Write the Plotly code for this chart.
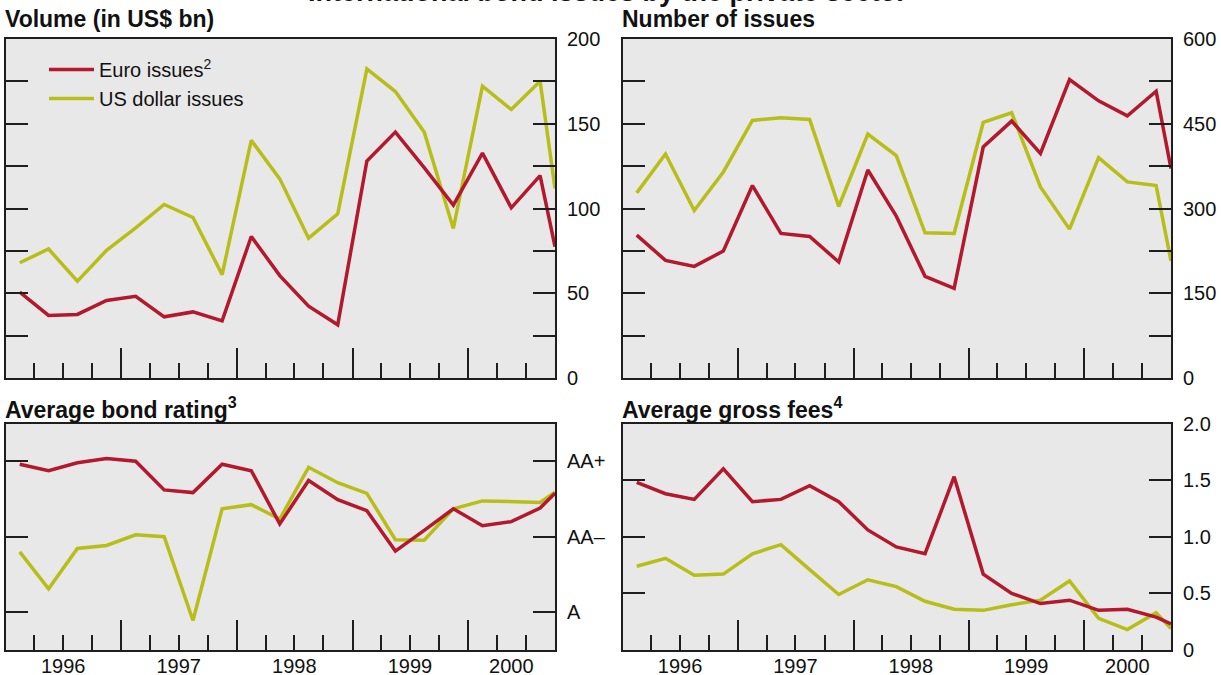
import plotly.graph_objects as go

# ---------------- data (quarterly, last point = latest partial reading) ----------------
periods = [
    "1996-02-15", "1996-05-16", "1996-08-15", "1996-11-15",
    "1997-02-15", "1997-05-16", "1997-08-15", "1997-11-15",
    "1998-02-15", "1998-05-16", "1998-08-15", "1998-11-15",
    "1999-02-15", "1999-05-16", "1999-08-15", "1999-11-15",
    "2000-02-15", "2000-05-16", "2000-08-15", "2000-10-01",
]

volume_euro = [50.6, 36.9, 37.5, 45.7, 48.2, 36.1, 39.0, 33.7, 83.5, 60.4,
               42.4, 31.4, 128.0, 145.1, 124.1, 102.0, 132.7, 100.4, 119.4, 77.5]
volume_usd = [68.0, 76.1, 57.1, 75.3, 88.6, 102.4, 94.7, 61.0, 140.2, 117.5,
              82.5, 96.9, 182.4, 169.0, 145.1, 88.2, 172.2, 158.4, 175.1, 111.8]

number_euro = [252.9, 208.2, 197.6, 224.7, 340.6, 255.9, 250.6, 205.3, 368.2, 286.5,
               180.0, 158.8, 408.8, 454.7, 397.6, 528.2, 490.6, 464.1, 507.6, 370.6]
number_usd = [327.6, 396.5, 296.5, 364.7, 455.9, 460.6, 457.6, 303.5, 431.8, 393.5,
              257.1, 255.9, 452.3, 469.4, 338.2, 263.5, 390.0, 347.1, 340.6, 207.1]

# rating in notches above A (A = 0, A+ = 1, AA- = 2, AA = 3, AA+ = 4, AAA = 5)
rating_euro = [3.92, 3.75, 3.96, 4.07, 4.00, 3.24, 3.17, 3.92, 3.75, 2.34,
               3.49, 2.98, 2.69, 1.62, 2.17, 2.74, 2.29, 2.40, 2.76, 3.15]
rating_usd = [1.60, 0.62, 1.69, 1.77, 2.05, 2.00, -0.22, 2.74, 2.85, 2.47,
              3.84, 3.43, 3.15, 1.92, 1.91, 2.74, 2.95, 2.94, 2.91, 3.18]

fees_euro = [1.48, 1.38, 1.33, 1.60, 1.31, 1.33, 1.45, 1.31, 1.06, 0.91,
             0.85, 1.53, 0.67, 0.50, 0.41, 0.44, 0.35, 0.36, 0.29, 0.23]
fees_usd = [0.74, 0.81, 0.66, 0.67, 0.85, 0.93, 0.71, 0.49, 0.62, 0.56,
            0.43, 0.36, 0.35, 0.40, 0.44, 0.61, 0.28, 0.18, 0.33, 0.19]

series_names = ["Euro issues<sup>2</sup>", "US dollar issues"]

x_range = ["1996-01-01", "2000-10-01"]
year_starts = ["1997-01-01", "1998-01-01", "1999-01-01", "2000-01-01"]
quarter_starts = [f"{y}-{m}-01" for y in range(1996, 2001) for m in ("01", "04", "07", "10")]
year_label_pos = ["1996-07-01", "1997-07-01", "1998-07-01", "1999-07-01", "2000-05-16"]
year_labels = ["1996", "1997", "1998", "1999", "2000"]

vol_ticks = [0, 25, 50, 75, 100, 125, 150, 175, 200]
vol_text = ["0", "", "50", "", "100", "", "150", "", "200"]
num_ticks = [0, 75, 150, 225, 300, 375, 450, 525, 600]
num_text = ["0", "", "150", "", "300", "", "450", "", "600"]
rating_ticks = [0, 2, 4]
rating_text = ["A", "AA\u2013", "AA+"]
fees_ticks = [0, 0.5, 1.0, 1.5, 2.0]
fees_text = ["0", "0.5", "1.0", "1.5", "2.0"]

panel_titles = ["Volume (in US$ bn)", "Number of issues",
                "Average bond rating<sup>3</sup>", "Average gross fees<sup>4</sup>"]
main_title = "International bond issues by the private sector"

# ---------------- style ----------------
RED = "#b3182c"
OLIVE = "#b7be17"
BG = "#e8e8e8"
LINE = "#1e1e1e"
FONT = "Liberation Sans, Arial, Helvetica, sans-serif"
W, H = 1221, 675

dom_xl = [5.5 / W, 555 / W]
dom_xr = [622.5 / W, 1171 / W]
dom_yt = [1 - 378 / H, 1 - 39 / H]
dom_yb = [1 - 650 / H, 1 - 423.5 / H]

fig = go.Figure()

panels = [
    ("x", "y", volume_euro, volume_usd),
    ("x2", "y2", number_euro, number_usd),
    ("x3", "y3", rating_euro, rating_usd),
    ("x4", "y4", fees_euro, fees_usd),
]
for i, (xa, ya, euro, usd) in enumerate(panels):
    fig.add_trace(go.Scatter(x=periods, y=usd, mode="lines", name=series_names[1],
                             line=dict(color=OLIVE, width=3.5), xaxis=xa, yaxis=ya,
                             showlegend=(i == 0), legendrank=2))
    fig.add_trace(go.Scatter(x=periods, y=euro, mode="lines", name=series_names[0],
                             line=dict(color=RED, width=3.5), xaxis=xa, yaxis=ya,
                             showlegend=(i == 0), legendrank=1))

# invisible traces to host the label axes
for xa, ya in (("x5", "y3"), ("x6", "y4")):
    fig.add_trace(go.Scatter(x=[], y=[], xaxis=xa, yaxis=ya, showlegend=False,
                             hoverinfo="skip"))


def xcfg(domain, anchor):
    return dict(type="date", domain=domain, anchor=anchor, range=x_range,
                showline=True, linewidth=2, linecolor=LINE, mirror=True,
                showgrid=False, zeroline=False,
                tickmode="array", tickvals=year_starts, ticks="inside",
                ticklen=30, tickwidth=2, tickcolor=LINE, showticklabels=False,
                minor=dict(tickmode="array", tickvals=quarter_starts, ticks="inside",
                           ticklen=15, tickwidth=2, tickcolor=LINE, showgrid=False),
                automargin=False, fixedrange=True)


def xlabcfg(over, anchor):
    return dict(type="date", overlaying=over, anchor=anchor, range=x_range,
                showline=False, showgrid=False, zeroline=False,
                tickmode="array", tickvals=year_label_pos, ticktext=year_labels,
                ticks="", tickfont=dict(size=20, color="#111"),
                ticklabelstandoff=2, automargin=False, fixedrange=True)


def ycfg(domain, anchor, rng, vals, texts):
    return dict(domain=domain, anchor=anchor, range=rng, side="right",
                tickmode="array", tickvals=vals, ticktext=texts,
                ticks="inside", ticklen=22, tickwidth=2, tickcolor=LINE,
                showline=True, linewidth=2, linecolor=LINE, mirror="ticks",
                showgrid=False, zeroline=False,
                tickfont=dict(size=20, color="#111"),
                ticklabelstandoff=6, automargin=False, fixedrange=True)


fig.update_layout(
    width=W, height=H,
    margin=dict(l=0, r=0, t=0, b=0),
    paper_bgcolor="white", plot_bgcolor=BG,
    font=dict(family=FONT, color="#111", size=20),
    xaxis=xcfg(dom_xl, "y"),
    xaxis2=xcfg(dom_xr, "y2"),
    xaxis3=xcfg(dom_xl, "y3"),
    xaxis4=xcfg(dom_xr, "y4"),
    xaxis5=xlabcfg("x3", "y3"),
    xaxis6=xlabcfg("x4", "y4"),
    yaxis=ycfg(dom_yt, "x", [0, 200], vol_ticks, vol_text),
    yaxis2=ycfg(dom_yt, "x2", [0, 600], num_ticks, num_text),
    yaxis3=ycfg(dom_yb, "x3", [-1, 5], rating_ticks, rating_text),
    yaxis4=ycfg(dom_yb, "x4", [0, 2], fees_ticks, fees_text),
    showlegend=True,
    legend=dict(x=44 / W, y=1 - 50 / H, xanchor="left", yanchor="top",
                bgcolor="rgba(0,0,0,0)", font=dict(size=20, color="#111"),
                itemwidth=45, tracegroupgap=0, traceorder="normal"),
)

title_pos = [(2.5, 19), (619.5, 19), (2.5, 408), (619.5, 408)]
for text, (px, py) in zip(panel_titles, title_pos):
    fig.add_annotation(text=f"<b>{text}</b>", x=px / W, y=1 - py / H,
                       xref="paper", yref="paper", xanchor="left", yanchor="middle",
                       showarrow=False, font=dict(size=23, color="#111"))

fig.add_annotation(text=f"<b>{main_title}</b>", x=607 / W, y=1 - 9 / H,
                   xref="paper", yref="paper", xanchor="center", yanchor="bottom",
                   showarrow=False, font=dict(size=27, color="#111"))

fig.write_html("out.html", config={"displayModeBar": False},
               post_script="document.body.style.margin='0';")
